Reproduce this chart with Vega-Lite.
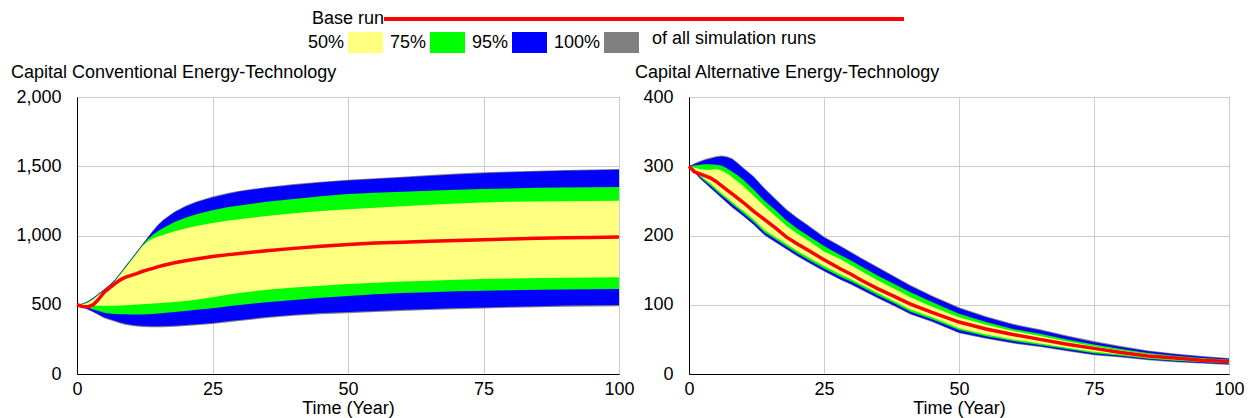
{
  "$schema": "https://vega.github.io/schema/vega-lite/v6.json",
  "background": "white",
  "padding": {"left": 10, "top": 10, "right": 5, "bottom": 0},
  "config": {
    "font": "Liberation Sans",
    "view": {"stroke": "#555555", "strokeWidth": 1},
    "axis": {
      "labelFont": "Liberation Sans", "labelFontSize": 18, "labelColor": "#000000",
      "titleFont": "Liberation Sans", "titleFontSize": 18, "titleFontWeight": "normal", "titleColor": "#000000",
      "gridColor": "#cccccc", "gridWidth": 1, "domainColor": "#000000", "domainWidth": 1,
      "ticks": false, "tickSize": 0, "zindex": 1, "labelFlush": false, "labelOverlap": false
    },
    "axisY": {"labelPadding": 16},
    "axisX": {"labelPadding": 6, "titlePadding": 1},
    "title": {"font": "Liberation Sans", "fontSize": 18, "fontWeight": "normal", "color": "#000000", "anchor": "start", "frame": "group", "baseline": "alphabetic", "offset": 6},
    "legend": {"labelFont": "Liberation Sans", "titleFont": "Liberation Sans", "labelFontSize": 18, "titleFontSize": 18, "labelColor": "#000000", "titleColor": "#000000", "titleFontWeight": "normal", "padding": 0}
  },
  "datasets": {
    "conv": [
      {"t": 0, "gmin": 500, "bb": 500, "gb": 500, "yb": 500, "r": 500, "yt": 500, "gt": 500, "bt": 500, "gmax": 500},
      {"t": 1, "gmin": 481, "bb": 485, "gb": 490, "yb": 498, "r": 488, "yt": 502, "gt": 503, "bt": 505, "gmax": 510},
      {"t": 2, "gmin": 463, "bb": 468, "gb": 478, "yb": 496, "r": 485, "yt": 515, "gt": 518, "bt": 522, "gmax": 527},
      {"t": 3, "gmin": 445, "bb": 450, "gb": 465, "yb": 494, "r": 500, "yt": 540, "gt": 544, "bt": 548, "gmax": 553},
      {"t": 4, "gmin": 424, "bb": 430, "gb": 454, "yb": 493, "r": 540, "yt": 570, "gt": 574, "bt": 578, "gmax": 583},
      {"t": 5, "gmin": 403, "bb": 410, "gb": 443, "yb": 492, "r": 590, "yt": 600, "gt": 604, "bt": 608, "gmax": 613},
      {"t": 6, "gmin": 389, "bb": 397, "gb": 436, "yb": 492, "r": 622, "yt": 630, "gt": 635, "bt": 640, "gmax": 645},
      {"t": 7, "gmin": 377, "bb": 385, "gb": 433, "yb": 493, "r": 652, "yt": 668, "gt": 673, "bt": 678, "gmax": 683},
      {"t": 8, "gmin": 364, "bb": 372, "gb": 432, "yb": 495, "r": 680, "yt": 718, "gt": 723, "bt": 728, "gmax": 733},
      {"t": 9, "gmin": 354, "bb": 362, "gb": 431, "yb": 497, "r": 700, "yt": 768, "gt": 773, "bt": 778, "gmax": 783},
      {"t": 10, "gmin": 348, "bb": 356, "gb": 430, "yb": 499, "r": 712, "yt": 818, "gt": 823, "bt": 828, "gmax": 833},
      {"t": 11, "gmin": 343, "bb": 351, "gb": 430, "yb": 502, "r": 725, "yt": 868, "gt": 873, "bt": 879, "gmax": 884},
      {"t": 12, "gmin": 340, "bb": 348, "gb": 430, "yb": 504, "r": 740, "yt": 920, "gt": 925, "bt": 930, "gmax": 935},
      {"t": 13, "gmin": 338, "bb": 346, "gb": 431, "yb": 506, "r": 752, "yt": 955, "gt": 972, "bt": 980, "gmax": 985},
      {"t": 14, "gmin": 337, "bb": 345, "gb": 434, "yb": 509, "r": 763, "yt": 978, "gt": 1005, "bt": 1031, "gmax": 1037},
      {"t": 15, "gmin": 337, "bb": 345, "gb": 436, "yb": 511, "r": 775, "yt": 993, "gt": 1032, "bt": 1075, "gmax": 1081},
      {"t": 16, "gmin": 338, "bb": 346, "gb": 440, "yb": 514, "r": 785, "yt": 1005, "gt": 1056, "bt": 1112, "gmax": 1118},
      {"t": 18, "gmin": 341, "bb": 349, "gb": 447, "yb": 520, "r": 803, "yt": 1030, "gt": 1098, "bt": 1168, "gmax": 1174},
      {"t": 20, "gmin": 346, "bb": 354, "gb": 455, "yb": 527, "r": 817, "yt": 1050, "gt": 1128, "bt": 1208, "gmax": 1214},
      {"t": 22, "gmin": 352, "bb": 360, "gb": 463, "yb": 536, "r": 830, "yt": 1068, "gt": 1153, "bt": 1240, "gmax": 1246},
      {"t": 25, "gmin": 361, "bb": 369, "gb": 475, "yb": 555, "r": 848, "yt": 1090, "gt": 1182, "bt": 1275, "gmax": 1281},
      {"t": 28, "gmin": 374, "bb": 382, "gb": 490, "yb": 574, "r": 862, "yt": 1108, "gt": 1205, "bt": 1302, "gmax": 1308},
      {"t": 30, "gmin": 382, "bb": 390, "gb": 498, "yb": 585, "r": 870, "yt": 1118, "gt": 1217, "bt": 1318, "gmax": 1324},
      {"t": 35, "gmin": 404, "bb": 412, "gb": 518, "yb": 608, "r": 890, "yt": 1140, "gt": 1243, "bt": 1345, "gmax": 1351},
      {"t": 40, "gmin": 420, "bb": 428, "gb": 535, "yb": 624, "r": 907, "yt": 1160, "gt": 1264, "bt": 1365, "gmax": 1371},
      {"t": 45, "gmin": 432, "bb": 440, "gb": 551, "yb": 637, "r": 922, "yt": 1176, "gt": 1283, "bt": 1382, "gmax": 1388},
      {"t": 50, "gmin": 439, "bb": 447, "gb": 564, "yb": 649, "r": 935, "yt": 1190, "gt": 1299, "bt": 1397, "gmax": 1403},
      {"t": 55, "gmin": 447, "bb": 455, "gb": 575, "yb": 659, "r": 945, "yt": 1201, "gt": 1308, "bt": 1408, "gmax": 1414},
      {"t": 60, "gmin": 455, "bb": 463, "gb": 584, "yb": 667, "r": 952, "yt": 1212, "gt": 1316, "bt": 1419, "gmax": 1425},
      {"t": 65, "gmin": 462, "bb": 470, "gb": 591, "yb": 674, "r": 958, "yt": 1222, "gt": 1323, "bt": 1430, "gmax": 1436},
      {"t": 70, "gmin": 468, "bb": 476, "gb": 597, "yb": 680, "r": 964, "yt": 1231, "gt": 1330, "bt": 1441, "gmax": 1447},
      {"t": 75, "gmin": 473, "bb": 481, "gb": 601, "yb": 686, "r": 969, "yt": 1239, "gt": 1335, "bt": 1450, "gmax": 1456},
      {"t": 80, "gmin": 478, "bb": 486, "gb": 605, "yb": 690, "r": 975, "yt": 1243, "gt": 1340, "bt": 1456, "gmax": 1462},
      {"t": 85, "gmin": 482, "bb": 490, "gb": 608, "yb": 693, "r": 980, "yt": 1246, "gt": 1344, "bt": 1462, "gmax": 1468},
      {"t": 90, "gmin": 486, "bb": 494, "gb": 610, "yb": 695, "r": 983, "yt": 1248, "gt": 1347, "bt": 1467, "gmax": 1473},
      {"t": 95, "gmin": 488, "bb": 496, "gb": 612, "yb": 697, "r": 986, "yt": 1250, "gt": 1349, "bt": 1471, "gmax": 1477},
      {"t": 100, "gmin": 490, "bb": 498, "gb": 613, "yb": 698, "r": 990, "yt": 1251, "gt": 1351, "bt": 1474, "gmax": 1480}
    ],
    "alt": [
      {"t": 0, "gmin": 300, "bb": 300, "gb": 300, "yb": 300, "r": 300, "yt": 300, "gt": 300, "bt": 300, "gmax": 300},
      {"t": 1, "gmin": 291, "bb": 292, "gb": 293, "yb": 294, "r": 292, "yt": 298, "gt": 301, "bt": 303, "gmax": 304.5},
      {"t": 2, "gmin": 282, "bb": 283, "gb": 285, "yb": 287, "r": 289, "yt": 296, "gt": 302, "bt": 306, "gmax": 307.5},
      {"t": 3, "gmin": 275, "bb": 276, "gb": 278.5, "yb": 281, "r": 286, "yt": 295, "gt": 303, "bt": 309, "gmax": 310.5},
      {"t": 4, "gmin": 268, "bb": 269, "gb": 272, "yb": 275, "r": 283, "yt": 295, "gt": 303, "bt": 311, "gmax": 312.5},
      {"t": 5, "gmin": 261, "bb": 262, "gb": 265, "yb": 268, "r": 278, "yt": 296, "gt": 302, "bt": 313, "gmax": 314.5},
      {"t": 6, "gmin": 254, "bb": 255, "gb": 258, "yb": 261, "r": 272, "yt": 294, "gt": 301, "bt": 314, "gmax": 315.5},
      {"t": 7, "gmin": 247, "bb": 248, "gb": 252, "yb": 255, "r": 266, "yt": 290, "gt": 297, "bt": 313, "gmax": 314.5},
      {"t": 8, "gmin": 240, "bb": 241, "gb": 245, "yb": 248, "r": 260, "yt": 284, "gt": 292, "bt": 310, "gmax": 311.5},
      {"t": 9, "gmin": 234, "bb": 235, "gb": 239, "yb": 242, "r": 254, "yt": 278, "gt": 287, "bt": 304, "gmax": 305.5},
      {"t": 10, "gmin": 228, "bb": 229, "gb": 232.5, "yb": 236, "r": 248, "yt": 272, "gt": 281, "bt": 297, "gmax": 298.5},
      {"t": 12, "gmin": 215, "bb": 216, "gb": 219.5, "yb": 223, "r": 235, "yt": 257, "gt": 266, "bt": 284, "gmax": 285.5},
      {"t": 14, "gmin": 200, "bb": 201, "gb": 204.5, "yb": 208, "r": 223, "yt": 242, "gt": 250, "bt": 267, "gmax": 268.5},
      {"t": 16, "gmin": 190, "bb": 191, "gb": 194.5, "yb": 198, "r": 211, "yt": 228, "gt": 237, "bt": 252, "gmax": 253.5},
      {"t": 18, "gmin": 180, "bb": 181, "gb": 184.5, "yb": 188, "r": 198, "yt": 214, "gt": 222, "bt": 237, "gmax": 238.5},
      {"t": 20, "gmin": 170, "bb": 171, "gb": 174.5, "yb": 178, "r": 188, "yt": 203, "gt": 210, "bt": 225, "gmax": 226.5},
      {"t": 22, "gmin": 161, "bb": 162, "gb": 165.5, "yb": 169, "r": 179, "yt": 193, "gt": 200, "bt": 214, "gmax": 215.5},
      {"t": 25, "gmin": 148, "bb": 149, "gb": 152.5, "yb": 156, "r": 165, "yt": 177, "gt": 185, "bt": 197, "gmax": 198.5},
      {"t": 28, "gmin": 136, "bb": 137, "gb": 140.5, "yb": 144, "r": 152, "yt": 166, "gt": 172, "bt": 184, "gmax": 185.5},
      {"t": 30, "gmin": 129, "bb": 130, "gb": 133.5, "yb": 137, "r": 144, "yt": 157, "gt": 164, "bt": 175, "gmax": 176.5},
      {"t": 32, "gmin": 121, "bb": 122, "gb": 125.5, "yb": 129, "r": 135, "yt": 148, "gt": 155, "bt": 166, "gmax": 167.5},
      {"t": 35, "gmin": 109, "bb": 110, "gb": 113.5, "yb": 117, "r": 123, "yt": 135, "gt": 142, "bt": 153, "gmax": 154.5},
      {"t": 38, "gmin": 98, "bb": 99, "gb": 102, "yb": 105, "r": 112, "yt": 123, "gt": 130, "bt": 140, "gmax": 141.5},
      {"t": 41, "gmin": 86, "bb": 87, "gb": 90, "yb": 93, "r": 101, "yt": 111, "gt": 118, "bt": 127, "gmax": 128.5},
      {"t": 45, "gmin": 75, "bb": 76, "gb": 79, "yb": 82, "r": 89, "yt": 97, "gt": 104, "bt": 112, "gmax": 113.5},
      {"t": 50, "gmin": 59, "bb": 60, "gb": 63.5, "yb": 66, "r": 75, "yt": 82, "gt": 87, "bt": 95, "gmax": 96.5},
      {"t": 55, "gmin": 51, "bb": 52, "gb": 54.5, "yb": 57, "r": 65, "yt": 71, "gt": 75, "bt": 82, "gmax": 83.5},
      {"t": 60, "gmin": 44, "bb": 45, "gb": 47.5, "yb": 50, "r": 57, "yt": 62, "gt": 65, "bt": 71, "gmax": 72.5},
      {"t": 65, "gmin": 39, "bb": 40, "gb": 42, "yb": 44, "r": 50, "yt": 55, "gt": 58, "bt": 63, "gmax": 64.5},
      {"t": 70, "gmin": 33, "bb": 34, "gb": 36, "yb": 38, "r": 43, "yt": 47, "gt": 50, "bt": 54, "gmax": 55.5},
      {"t": 75, "gmin": 27, "bb": 28, "gb": 30, "yb": 32, "r": 37, "yt": 40, "gt": 42.5, "bt": 46, "gmax": 47.5},
      {"t": 80, "gmin": 24, "bb": 25, "gb": 26.5, "yb": 28, "r": 31, "yt": 34, "gt": 36, "bt": 39, "gmax": 40.5},
      {"t": 85, "gmin": 20, "bb": 21, "gb": 22, "yb": 23.5, "r": 26, "yt": 29, "gt": 30.5, "bt": 33, "gmax": 34},
      {"t": 90, "gmin": 17, "bb": 18, "gb": 19, "yb": 20.5, "r": 23, "yt": 25, "gt": 26.5, "bt": 28.5, "gmax": 29.5},
      {"t": 95, "gmin": 15, "bb": 16, "gb": 17, "yb": 18, "r": 20, "yt": 22, "gt": 23, "bt": 25, "gmax": 26},
      {"t": 100, "gmin": 13, "bb": 14, "gb": 15, "yb": 16.5, "r": 18, "yt": 20, "gt": 21, "bt": 22, "gmax": 23}
    ]
  },
  "spacing": 70,
  "bounds": "flush",
  "resolve": {"scale": {"fill": "shared", "stroke": "shared"}, "legend": {"fill": "shared", "stroke": "shared"}},
  "hconcat": [
    {
      "width": 542,
      "height": 277,
      "title": {"text": "Capital Conventional Energy-Technology", "dx": -66},
      "data": {"name": "conv"},
      "encoding": {
        "x": {"field": "t", "type": "quantitative", "title": "Time (Year)", "scale": {"domain": [0, 100], "nice": false}, "axis": {"values": [0, 25, 50, 75, 100]}}
      },
      "layer": [
        {
          "mark": {"type": "area", "opacity": 1},
          "encoding": {
            "y": {"field": "gmin", "type": "quantitative", "title": null, "scale": {"domain": [0, 2000], "nice": false}, "axis": {"values": [0, 500, 1000, 1500, 2000], "format": ",.0f"}},
            "y2": {"field": "gmax"},
            "fill": {
              "datum": "100%", "type": "nominal",
              "scale": {"domain": ["50%", "75%", "95%", "100%"], "range": ["#FFFF80", "#00FF00", "#0000FF", "#808080"]},
              "legend": {
                "orient": "none", "legendX": 271, "legendY": -72, "direction": "horizontal",
                "title": "of all simulation runs", "titleOrient": "right", "titlePadding": 13, "titleBaseline": "middle",
                "labelAlign": "right", "labelBaseline": "middle", "labelOffset": -39,
                "symbolType": "M-1,-0.6H1V0.6H-1Z", "symbolSize": 1225, "symbolStrokeWidth": 0, "symbolOpacity": 1,
                "columnPadding": 6
              }
            }
          }
        },
        {
          "mark": {"type": "area", "opacity": 1},
          "encoding": {"y": {"field": "bb", "type": "quantitative", "title": null}, "y2": {"field": "bt"}, "fill": {"datum": "95%", "type": "nominal"}}
        },
        {
          "mark": {"type": "area", "opacity": 1},
          "encoding": {"y": {"field": "gb", "type": "quantitative", "title": null}, "y2": {"field": "gt"}, "fill": {"datum": "75%", "type": "nominal"}}
        },
        {
          "mark": {"type": "area", "opacity": 1},
          "encoding": {"y": {"field": "yb", "type": "quantitative", "title": null}, "y2": {"field": "yt"}, "fill": {"datum": "50%", "type": "nominal"}}
        },
        {
          "mark": {"type": "line", "strokeWidth": 3.5},
          "encoding": {
            "y": {"field": "r", "type": "quantitative", "title": null},
            "stroke": {
              "datum": "Base run", "type": "nominal",
              "scale": {"domain": ["Base run"], "range": ["#FF0000"]},
              "legend": {
                "orient": "none", "legendX": 558, "legendY": -87, "title": null,
                "symbolType": "M-40,0H40", "symbolSize": 169, "symbolStrokeWidth": 4, "symbolOpacity": 1,
                "labelAlign": "right", "labelBaseline": "middle", "labelOffset": -269
              }
            }
          }
        }
      ]
    },
    {
      "width": 540,
      "height": 277,
      "title": {"text": "Capital Alternative Energy-Technology", "dx": -54},
      "data": {"name": "alt"},
      "encoding": {
        "x": {"field": "t", "type": "quantitative", "title": "Time (Year)", "scale": {"domain": [0, 100], "nice": false}, "axis": {"values": [0, 25, 50, 75, 100]}}
      },
      "layer": [
        {
          "mark": {"type": "area", "opacity": 1},
          "encoding": {
            "y": {"field": "gmin", "type": "quantitative", "title": null, "scale": {"domain": [0, 400], "nice": false}, "axis": {"values": [0, 100, 200, 300, 400]}},
            "y2": {"field": "gmax"},
            "fill": {"datum": "100%", "type": "nominal"}
          }
        },
        {
          "mark": {"type": "area", "opacity": 1},
          "encoding": {"y": {"field": "bb", "type": "quantitative", "title": null}, "y2": {"field": "bt"}, "fill": {"datum": "95%", "type": "nominal"}}
        },
        {
          "mark": {"type": "area", "opacity": 1},
          "encoding": {"y": {"field": "gb", "type": "quantitative", "title": null}, "y2": {"field": "gt"}, "fill": {"datum": "75%", "type": "nominal"}}
        },
        {
          "mark": {"type": "area", "opacity": 1},
          "encoding": {"y": {"field": "yb", "type": "quantitative", "title": null}, "y2": {"field": "yt"}, "fill": {"datum": "50%", "type": "nominal"}}
        },
        {
          "mark": {"type": "line", "strokeWidth": 3.5},
          "encoding": {"y": {"field": "r", "type": "quantitative", "title": null}, "stroke": {"datum": "Base run", "type": "nominal"}}
        }
      ]
    }
  ]
}
